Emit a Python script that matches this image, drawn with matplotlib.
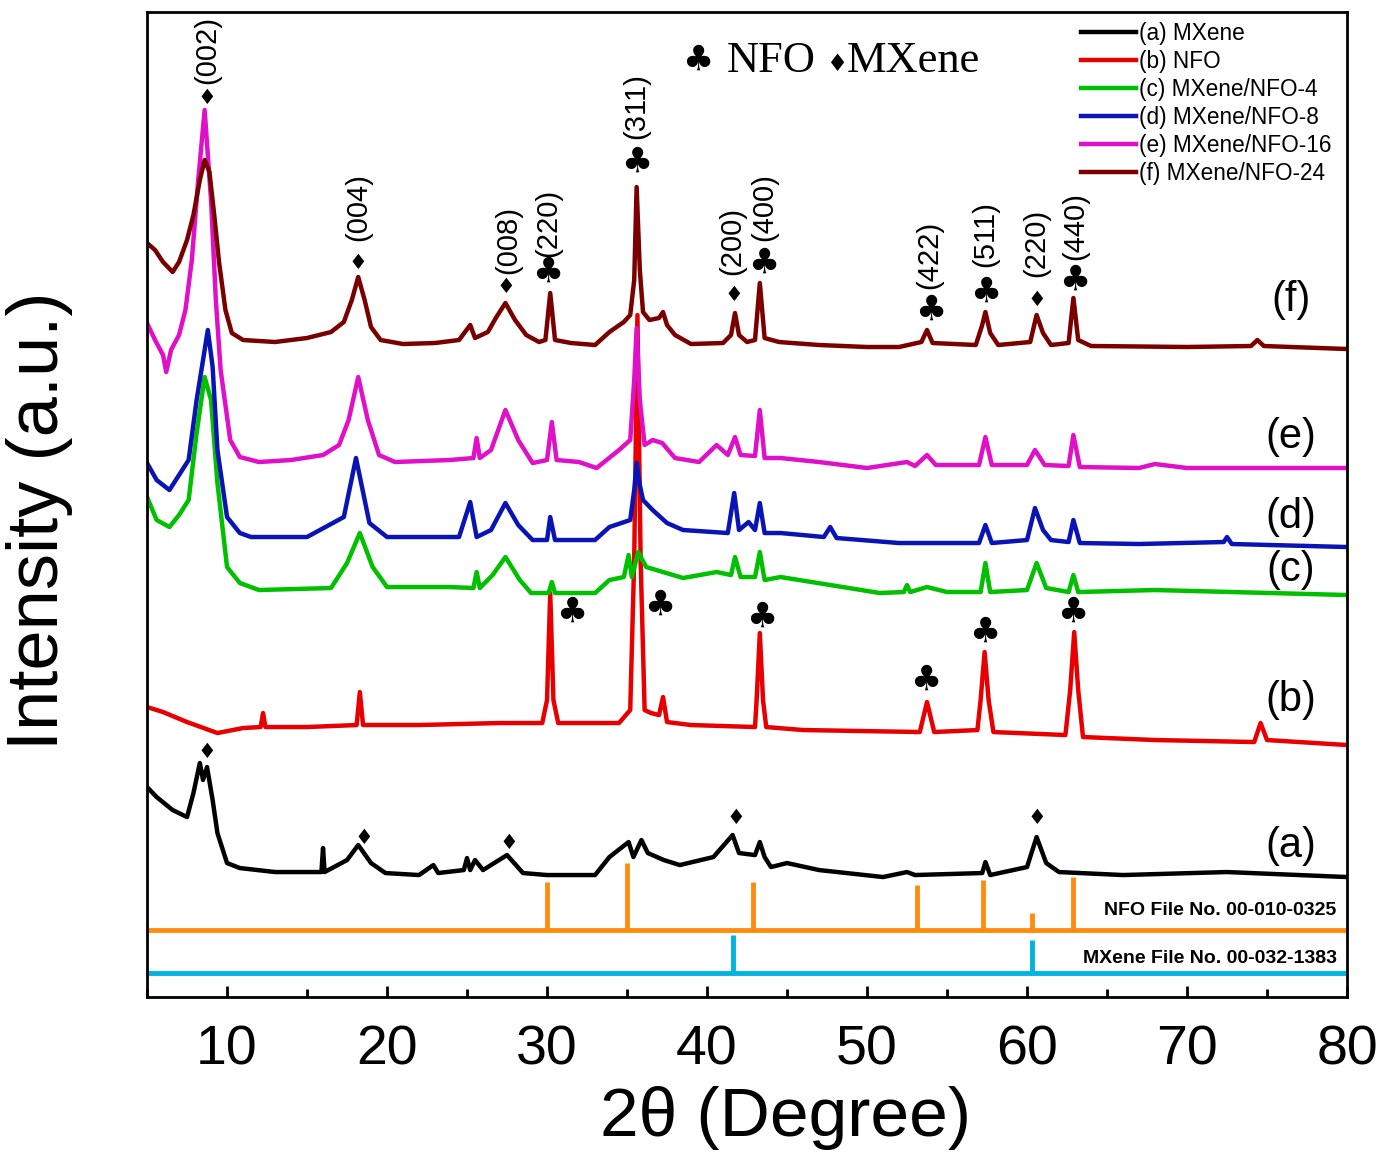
import numpy as np
import matplotlib.pyplot as plt
from matplotlib.ticker import MultipleLocator

plt.rcParams['font.family'] = ['Liberation Sans', 'DejaVu Sans']

# XRD patterns, 2theta (deg) vs stacked intensity (a.u.)
a_x = [5.0, 5.6, 6.6, 7.5, 7.9, 8.3, 8.5, 8.75, 9.1, 9.4, 10.0, 10.8, 13.0, 15.9, 16.0, 16.1,
       17.5, 18.2, 19.0, 19.9, 22.0, 22.9, 23.2, 24.8, 25.0, 25.2, 25.5, 26.0, 27.5, 28.5, 30.0,
       33.0, 33.9, 35.1, 35.4, 35.9, 36.3, 37.3, 38.3, 40.4, 41.6, 42.0, 43.0, 43.3, 43.6, 44.0,
       45.0, 47.0, 51.0, 52.5, 53.0, 57.2, 57.4, 57.7, 60.0, 60.6, 61.2, 62.0, 66.0, 72.5, 80.0]
a_y = [210, 200, 187, 180, 204, 234, 217, 230, 197, 164, 134, 129, 125, 125, 149, 125,
       137, 152, 134, 124, 122, 132, 124, 127, 139, 127, 137, 127, 142, 124, 122,
       122, 140, 155, 140, 157, 144, 137, 132, 140, 162, 144, 142, 155, 140, 130,
       134, 127, 120, 125, 122, 124, 135, 122, 130, 160, 134, 125, 122, 125, 120]

b_x = [5.0, 6.0, 7.5, 9.4, 11.0, 12.1, 12.25, 12.4, 15.0, 18.1, 18.3, 18.5, 22.0, 27.0, 29.7,
       30.0, 30.2, 30.4, 30.7, 34.5, 35.2, 35.45, 35.65, 35.85, 36.1, 36.5, 37.0, 37.25, 37.5,
       39.0, 43.0, 43.1, 43.3, 43.5, 43.7, 46.0, 53.3, 53.75, 54.2, 56.9, 57.1, 57.35, 57.6,
       57.9, 62.4, 62.7, 62.95, 63.2, 63.5, 68.0, 74.2, 74.6, 75.0, 80.0]
b_y = [290, 285, 275, 264, 269, 270, 284, 270, 270, 272, 305, 272, 272, 274, 274,
       297, 404, 297, 274, 274, 287, 437, 682, 437, 287, 284, 282, 300, 275,
       272, 270, 297, 364, 297, 270, 267, 265, 295, 265, 267, 297, 345, 297,
       265, 262, 307, 365, 307, 260, 257, 255, 274, 257, 252]

c_x = [5.0, 5.6, 6.4, 7.0, 7.6, 8.1, 8.6, 9.0, 9.4, 10.0, 10.8, 12.0, 16.5, 17.5, 18.3, 19.1,
       20.0, 23.9, 25.4, 25.6, 25.8, 26.6, 27.4, 28.3, 29.0, 30.1, 30.3, 30.5, 33.0, 33.9, 34.8,
       35.1, 35.3, 35.7, 36.2, 38.5, 40.6, 41.5, 41.75, 42.1, 43.0, 43.3, 43.6, 44.6, 50.8,
       52.3, 52.5, 52.7, 53.75, 55.0, 57.1, 57.4, 57.7, 60.0, 60.6, 61.2, 62.6, 62.9, 63.2,
       68.0, 80.0]
c_y = [500, 477, 470, 482, 497, 564, 620, 597, 514, 430, 414, 407, 409, 434, 464, 430,
       410, 410, 409, 425, 409, 422, 440, 417, 404, 404, 415, 404, 404, 417, 420,
       442, 420, 445, 430, 419, 425, 422, 440, 420, 420, 445, 417, 420, 404,
       405, 412, 405, 410, 405, 405, 434, 405, 407, 434, 409, 405, 422, 405,
       407, 402]

d_x = [5.0, 5.6, 6.4, 7.0, 7.6, 8.1, 8.8, 9.1, 9.4, 10.0, 10.8, 11.5, 15.0, 17.3, 18.06, 18.9,
       20.0, 24.5, 25.2, 25.6, 26.5, 27.4, 28.2, 29.1, 30.0, 30.2, 30.5, 33.0, 33.9, 35.2,
       35.45, 35.6, 35.8, 36.0, 36.6, 37.5, 38.5, 41.3, 41.7, 42.0, 42.6, 43.0, 43.3, 43.6,
       44.6, 47.3, 47.7, 48.1, 52.0, 57.0, 57.4, 57.8, 60.0, 60.5, 61.0, 61.5, 62.6, 62.9,
       63.3, 67.0, 72.3, 72.5, 72.8, 80.0]
d_y = [534, 517, 507, 522, 537, 597, 667, 630, 547, 480, 464, 460, 460, 480, 539, 474,
       460, 460, 495, 460, 467, 494, 472, 457, 457, 480, 457, 457, 470, 477,
       507, 534, 512, 497, 487, 474, 467, 464, 504, 467, 475, 467, 494, 464,
       464, 460, 470, 459, 454, 454, 472, 454, 457, 489, 467, 457, 455, 477,
       454, 453, 455, 460, 453, 450]

e_x = [5.0, 5.5, 6.0, 6.2, 6.5, 7.0, 7.4, 7.8, 8.2, 8.6, 9.0, 9.3, 9.6, 10.2, 10.8, 12.0,
       14.0, 16.0, 17.0, 17.6, 18.2, 18.8, 19.5, 20.5, 23.9, 25.4, 25.6, 25.8, 26.5, 27.4,
       28.2, 29.1, 30.0, 30.3, 30.6, 32.0, 33.1, 34.5, 35.2, 35.45, 35.6, 35.8, 36.1, 36.6,
       37.2, 38.0, 39.5, 40.6, 41.3, 41.75, 42.1, 43.0, 43.3, 43.6, 44.6, 47.0, 50.0, 52.5,
       53.0, 53.75, 54.3, 57.0, 57.4, 57.8, 60.0, 60.5, 61.1, 62.6, 62.9, 63.3, 67.0, 68.0,
       70.0, 80.0]
e_y = [674, 657, 642, 625, 647, 662, 687, 737, 817, 887, 797, 697, 627, 557, 540, 535,
       537, 542, 552, 577, 620, 577, 542, 535, 537, 539, 559, 539, 547, 587,
       557, 534, 537, 575, 537, 535, 529, 547, 557, 617, 669, 597, 552, 557,
       554, 539, 535, 552, 542, 560, 542, 541, 587, 539, 539, 535, 529, 535,
       531, 542, 532, 532, 560, 532, 532, 547, 532, 531, 562, 530, 529, 533,
       529, 529]

f_x = [5.0, 5.5, 6.0, 6.6, 7.0, 7.5, 7.9, 8.3, 8.6, 8.9, 9.2, 9.5, 9.9, 10.3, 11.0, 13.0,
       15.0, 16.5, 17.3, 17.8, 18.2, 18.6, 19.0, 19.6, 21.0, 23.0, 24.5, 25.2, 25.5, 26.3,
       26.8, 27.4, 28.0, 28.7, 29.5, 29.9, 30.2, 30.5, 31.5, 33.0, 33.9, 34.8, 35.2, 35.45,
       35.6, 35.8, 36.0, 36.4, 37.0, 37.25, 37.5, 38.0, 39.0, 41.0, 41.5, 41.75, 42.0, 42.5,
       43.0, 43.3, 43.6, 44.5, 47.0, 50.0, 52.0, 53.4, 53.75, 54.1, 56.8, 57.2, 57.4, 57.7,
       58.2, 60.2, 60.6, 61.0, 61.5, 62.6, 62.9, 63.2, 64.0, 70.0, 74.0, 74.4, 74.8, 80.0]
f_y = [754, 747, 735, 725, 735, 757, 782, 817, 837, 825, 782, 735, 687, 664, 657, 655,
       659, 665, 675, 697, 720, 697, 670, 657, 653, 654, 657, 672, 659, 665,
       679, 694, 677, 662, 655, 657, 704, 657, 654, 652, 665, 675, 682, 717,
       810, 727, 685, 677, 679, 685, 672, 662, 653, 654, 662, 684, 662, 655,
       657, 714, 659, 655, 652, 650, 650, 655, 667, 654, 652, 672, 685, 664,
       652, 655, 682, 664, 652, 654, 699, 657, 651, 650, 651, 657, 651, 648]

labels = ['(a) MXene', '(b) NFO', '(c) MXene/NFO-4', '(d) MXene/NFO-8',
          '(e) MXene/NFO-16', '(f) MXene/NFO-24']
colors = ['black', '#e80000', '#00c000', '#0a14b4', '#e010c8', '#7a0000']

# reference patterns (stick positions and heights)
nfo_pos = [30.0, 35.0, 42.9, 53.1, 57.25, 60.3, 62.9]
nfo_h = [48, 67, 48, 45, 50, 17, 53]
mx_pos = [41.6, 60.3]
mx_h = [38, 33]

fig = plt.figure(figsize=(13.78, 11.52), dpi=100)
ax = fig.add_axes([0.1067, 0.1345, 0.8708, 0.8551])

series = [(a_x, a_y), (b_x, b_y), (c_x, c_y), (d_x, d_y), (e_x, e_y), (f_x, f_y)]
for (xs, ys), lab, col in zip(series, labels, colors):
    ax.plot(xs, ys, color=col, lw=3.2, label=lab, solid_joinstyle='round')

nfo_base, mx_base = 67, 24
ax.axhline(nfo_base, color='#ff8c10', lw=3.5)
ax.vlines(nfo_pos, nfo_base, np.array(nfo_h) + nfo_base, color='#ff8c10', lw=3.5)
ax.axhline(mx_base, color='#00b4e0', lw=3.5)
ax.vlines(mx_pos, mx_base, np.array(mx_h) + mx_base, color='#00b4e0', lw=3.5)
ax.text(79.3, 87, 'NFO File No. 00-010-0325', ha='right', va='center', fontsize=14, fontweight='bold')
ax.text(79.4, 39, 'MXene File No. 00-032-1383', ha='right', va='center', fontsize=14, fontweight='bold')

# hkl labels
hkl = [('(002)', 8.75, 947), ('(004)', 18.2, 790), ('(008)', 27.6, 757), ('(220)', 30.1, 774),
       ('(311)', 35.6, 891), ('(200)', 41.6, 756), ('(400)', 43.6, 790), ('(422)', 53.9, 742),
       ('(511)', 57.4, 763), ('(220)', 60.6, 754), ('(440)', 63.0, 771)]
for t, x, y in hkl:
    ax.text(x, y, t, rotation=90, ha='center', va='center', fontsize=21)

sym = ['DejaVu Sans']
dia = [(8.75, 899), (18.2, 734), (27.45, 710), (41.65, 702), (60.6, 697),
       (8.75, 245), (18.56, 159), (27.6, 154), (41.8, 179), (60.6, 179)]
for x, y in dia:
    ax.text(x, y, '\u2666', ha='center', va='center', fontsize=15, family=sym)
club = [(30.06, 725), (35.63, 835), (43.56, 734), (54.0, 687), (57.44, 705), (63.0, 717),
        (31.56, 385), (37.06, 392), (43.44, 380), (53.69, 317), (57.38, 365), (62.88, 385)]
for x, y in club:
    ax.text(x, y, '\u2663', ha='center', va='center', fontsize=25, family=sym)

ax.text(39.4, 937, '\u2663', ha='center', va='center', fontsize=25, family=sym)
ax.text(41.25, 936, 'NFO', ha='left', va='center', fontsize=32, family=['Liberation Serif'])
ax.text(48.1, 933, '\u2666', ha='center', va='center', fontsize=17, family=sym)
ax.text(48.75, 936, 'MXene', ha='left', va='center', fontsize=32, family=['Liberation Serif'])

for t, y in zip(['(a)', '(b)', '(c)', '(d)', '(e)', '(f)'], [151, 297, 427, 480, 560, 697]):
    ax.text(76.5, y, t, ha='center', va='center', fontsize=30)

ax.legend(loc='upper left', bbox_to_anchor=(0.778, 0.990), frameon=False, fontsize=16.3,
          handlelength=2.45, handletextpad=0.15, labelspacing=0.22, borderaxespad=0, borderpad=0)

ax.set_xlim(5, 80)
ax.set_ylim(0, 985)
ax.set_yticks([])
ax.xaxis.set_major_locator(MultipleLocator(10))
ax.xaxis.set_minor_locator(MultipleLocator(5))
ax.tick_params(axis='x', which='both', direction='in', labelsize=40, pad=20, width=2)
ax.tick_params(axis='x', which='major', length=8)
ax.tick_params(axis='x', which='minor', length=6)
for s in ax.spines.values():
    s.set_linewidth(2)

ax.set_xlabel('2\u03b8 (Degree)', fontsize=50)
ax.xaxis.set_label_coords(0.532, -0.09)
ax.set_ylabel('Intensity (a.u.)', fontsize=52)
ax.yaxis.set_label_coords(-0.062, 0.484)

fig.savefig('out.png', dpi=100)
